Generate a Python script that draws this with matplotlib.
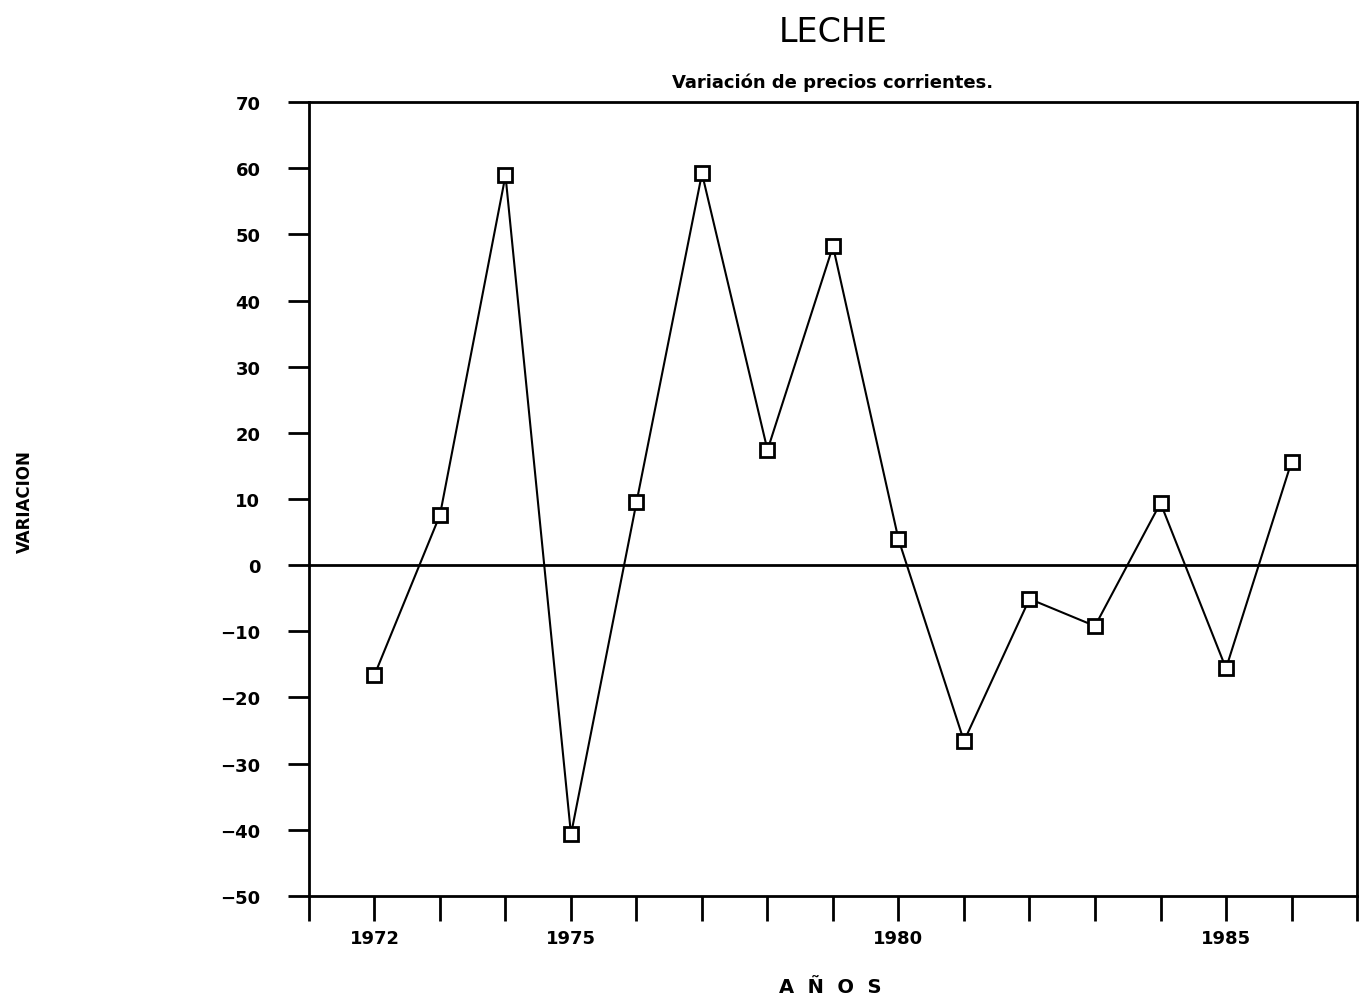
import matplotlib
matplotlib.use("Agg")
import matplotlib.pyplot as plt
from matplotlib.ticker import MultipleLocator

years = [1972, 1973, 1974, 1975, 1976, 1977, 1978, 1979, 1980, 1981, 1982, 1983, 1984, 1985, 1986]
variacion = [-16.6, 7.6, 58.9, -40.7, 9.5, 59.2, 17.4, 48.2, 3.9, -26.6, -5.1, -9.2, 9.4, -15.6, 15.6]
xticks = [1972, 1975, 1980, 1985]
yticks = list(range(-50, 71, 10))

fig = plt.figure(figsize=(13.63, 10.03), dpi=100)
ax = fig.add_axes([0.2267, 0.1057, 0.9956 - 0.2267, 0.8973 - 0.1057])

ax.axhline(0, color="black", lw=2, zorder=1)
ax.plot(years, variacion, color="black", lw=1.5, marker="s", markersize=10,
        markerfacecolor="white", markeredgecolor="black", markeredgewidth=2, zorder=3)

ax.set_xlim(1971, 1987)
ax.set_ylim(-50, 70)
ax.set_xticks(xticks)
ax.xaxis.set_minor_locator(MultipleLocator(1))
ax.set_yticks(yticks)
ax.set_yticklabels([str(v) if v >= 0 else "\u2212" + str(-v) for v in yticks])

for s in ax.spines.values():
    s.set_linewidth(2)

ax.tick_params(axis="x", which="both", direction="out", length=18, width=2, pad=6,
               labelsize=13)
ax.tick_params(axis="y", direction="out", length=15, width=2, pad=20, labelsize=13)
for lab in ax.get_xticklabels() + ax.get_yticklabels():
    lab.set_fontweight("bold")

fig.text(0.611, 0.968, "LECHE", ha="center", va="center", fontsize=24)
fig.text(0.611, 0.917, "Variación de precios corrientes.", ha="center", va="center",
         fontsize=13, fontweight="bold")
fig.text(0.609, 0.015, "A  Ñ  O  S", ha="center", va="center", fontsize=14, fontweight="bold")
fig.text(0.018, 0.5, "VARIACION", ha="center", va="center", rotation=90, fontsize=12,
         fontweight="bold")

fig.savefig("out.png", dpi=100)
